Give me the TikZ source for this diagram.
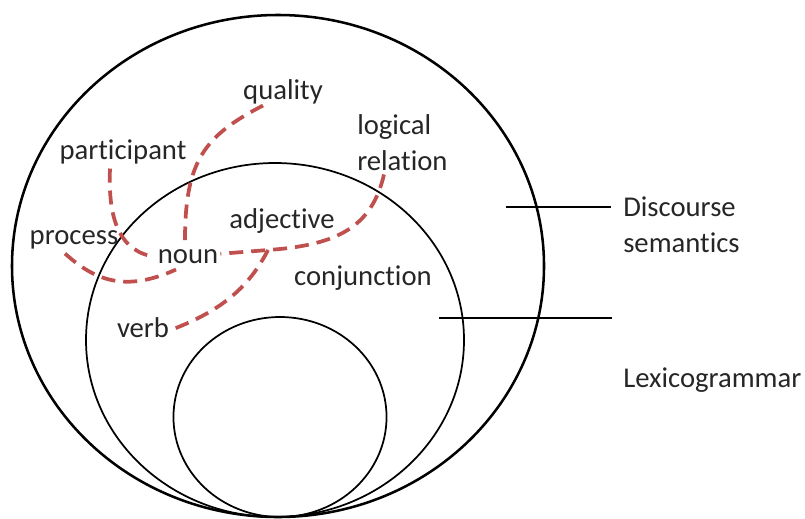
\documentclass[tikz,border=0pt]{standalone}
\usepackage{fontspec}
\setmainfont{Carlito}[Ligatures=NoCommon]
\usepackage{xcolor}
\usepackage{tikz}
\usetikzlibrary{calc}
\definecolor{cInk}{HTML}{262626}
\definecolor{cRed}{HTML}{C0504D}
\tikzset{
  ring/.style={draw=black,line width=#1},
  ring/.default=1.3pt,
  word/.style={font=\fontsize{21.5}{26.5}\selectfont,text=cInk,inner sep=1.5pt,text height=15.5pt,text depth=4.7pt,anchor=base},
  lbl/.style={font=\fontsize{21.5}{26.5}\selectfont,text=cInk,inner sep=1.5pt,align=left,anchor=base west},
  rdash/.style={draw=cRed,line width=2.8pt,dash pattern=on 10.5pt off 6pt},
  pointer/.style={draw=black,line width=1.2pt},
}
\begin{document}
\begin{tikzpicture}[x=0.75pt,y=-0.75pt]
  \useasboundingbox (0,0) rectangle (805,518);
  % the three strata
  \draw[ring=1.9pt] (278,266) ellipse [x radius=199.5pt,y radius=188.25pt];
  \draw[ring] (275,340) ellipse [x radius=141.75pt,y radius=132.75pt];
  \draw[ring] (280,417) ellipse [x radius=79.9pt,y radius=75pt];
  % words
  \node[word] (quality) at (283,99) {quality};
  \node[word] (participant) at (123,159) {participant};
  \node[lbl] (logrel) at (355,170) {logical\\relation};
  \node[word] (process) at (74,244) {process};
  \node[word] (noun) at (188,263) {noun};
  \node[word] (adjective) at (282,228) {adjective};
  \node[word] (conjunction) at (363,285) {conjunction};
  \node[word] (verb) at (143,337) {verb};
  \node[lbl] (discsem) at (621,252) {Discourse\\semantics};
  \node[lbl] (lexgram) at (621,387) {Lexicogrammar};
  % pointers
  \coordinate (dsL) at (506,207); \coordinate (dsR) at (611,207);
  \coordinate (lgL) at (439,318); \coordinate (lgR) at (612,318);
  \draw[pointer] (dsL) -- (dsR);
  \draw[pointer] (lgL) -- (lgR);
  % metaphorical realisations
  \coordinate (j) at (268,250);
  \draw[rdash] ($(quality.south)+(-20,-2)$) .. controls +(-58,30) and +(0,-80) .. ($(noun.north)+(-3,0)$);
  \draw[rdash] ($(participant.south)+(-13,1)$) .. controls +(-2,47) and +(-32,-8) .. ($(noun.west)+(-6,0)$);
  \draw[rdash] ($(process.south)+(-9,1)$) .. controls +(30,27) and +(-51,23) .. ($(noun.south)+(-12,-2)$);
  \draw[rdash] ($(logrel.south west)+(29,2)$) .. controls +(-12,51) and +(72,-5) .. (j) -- ($(noun.east)+(0,-2)$);
  \draw[rdash] (j) .. controls +(-18,35) and +(53,-20) .. (verb.east);
\end{tikzpicture}
\end{document}
